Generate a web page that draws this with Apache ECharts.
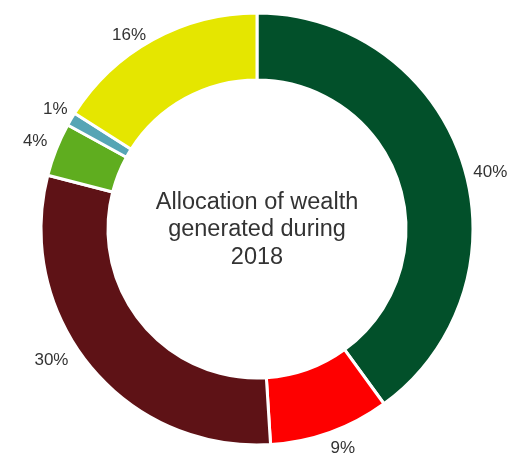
<!DOCTYPE html>
<html>
<head>
<meta charset="utf-8">
<script src="https://cdn.jsdelivr.net/npm/echarts@6/dist/echarts.min.js"></script>
<style>
  html, body { margin: 0; padding: 0; background: #fff; }
  #chart { width: 513px; height: 458px; }
</style>
</head>
<body>
<div id="chart"></div>
<script>
// slices in clockwise order from 12 o'clock
const categories = ['A', 'B', 'C', 'D', 'E', 'F']
const values = [40, 9, 30, 4, 1, 16]
const colors = ['#02502a', '#fe0000', '#5e1216', '#5fad1f', '#56a5b5', '#e5e600']
const title = 'Allocation of wealth\ngenerated during\n2018'

// small label nudges (px) so the labels sit where the original put them
const labelNudge = [[2, 11], [-6, 12], [-14, -9], [0, -7], [5, -8], [0, -1]]

const chart = echarts.init(document.getElementById('chart'))

chart.setOption({
  backgroundColor: '#fff',
  animation: false,
  title: {
    text: title,
    left: 257,
    top: 230,
    padding: 0,
    textAlign: 'center',
    textVerticalAlign: 'middle',
    textStyle: {
      fontFamily: 'Liberation Sans',
      fontWeight: 'normal',
      fontSize: 23.5,
      lineHeight: 27.5,
      color: '#333'
    }
  },
  series: [{
    type: 'pie',
    center: [257, 229],
    radius: [149, 216],
    startAngle: 90,
    clockwise: true,
    avoidLabelOverlap: false,
    data: categories.map((c, i) => ({
      name: c,
      value: values[i],
      itemStyle: { color: colors[i] }
    })),
    itemStyle: {
      borderColor: '#fff',
      borderWidth: 3
    },
    label: {
      show: true,
      position: 'outside',
      formatter: '{c}%',
      fontFamily: 'Liberation Sans',
      fontSize: 17,
      color: '#333'
    },
    labelLine: {
      show: false,
      length: 4,
      length2: 0
    },
    labelLayout: params => ({
      dx: labelNudge[params.dataIndex][0],
      dy: labelNudge[params.dataIndex][1]
    })
  }]
})
</script>
</body>
</html>
